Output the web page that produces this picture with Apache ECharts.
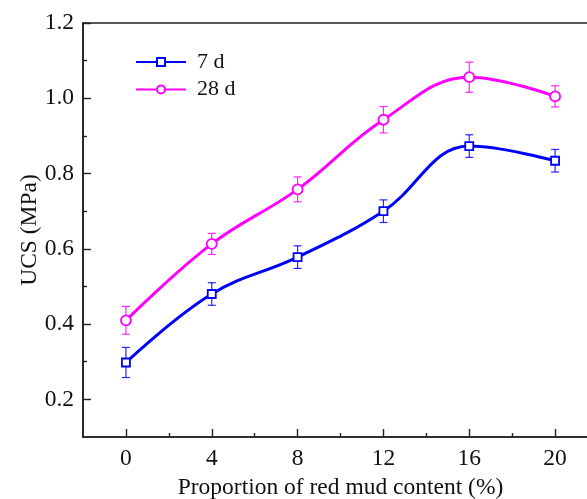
<!DOCTYPE html>
<html>
<head>
<meta charset="utf-8">
<script src="https://cdn.jsdelivr.net/npm/echarts@6/dist/echarts.min.js"></script>
<style>
  html, body { margin: 0; padding: 0; background: #fff; }
  #main { width: 587px; height: 499px; }
</style>
</head>
<body>
<div id="main"></div>
<script>
const contents = [0, 4, 8, 12, 16, 20];
const minorX = [2, 6, 10, 14, 18];
const yTicks = [0.2, 0.4, 0.6, 0.8, 1.0, 1.2];
const minorY = [0.3, 0.5, 0.7, 0.9, 1.1];

const ucs7 = [0.298, 0.48, 0.578, 0.70, 0.873, 0.834];
const err7 = [0.04, 0.03, 0.03, 0.03, 0.03, 0.03];
const ucs28 = [0.41, 0.613, 0.758, 0.943, 1.056, 1.005];
const err28 = [0.037, 0.028, 0.033, 0.035, 0.04, 0.028];

const BLUE = '#0000ff';
const MAGENTA = '#ff00ff';
const font = '"Liberation Serif", "Times New Roman", serif';
const FS = 23.5;

const pts = (ys) => contents.map((x, i) => [x, ys[i]]);
const bars = (ys, es) => contents.map((x, i) => [x, ys[i] - es[i], ys[i] + es[i]]);

const errorSeries = (data, color) => ({
  type: 'custom',
  data,
  z: 1,
  silent: true,
  renderItem: (params, api) => {
    const x = api.value(0);
    const top = api.coord([x, api.value(2)]);
    const bot = api.coord([x, api.value(1)]);
    const w = 4;
    const st = { stroke: color, lineWidth: 1.2, opacity: 0.85 };
    return {
      type: 'group',
      children: [
        { type: 'line', shape: { x1: top[0], y1: top[1], x2: bot[0], y2: bot[1] }, style: st },
        { type: 'line', shape: { x1: top[0] - w, y1: top[1], x2: top[0] + w, y2: top[1] }, style: st },
        { type: 'line', shape: { x1: bot[0] - w, y1: bot[1], x2: bot[0] + w, y2: bot[1] }, style: st },
      ],
    };
  },
});

const chart = echarts.init(document.getElementById('main'), null, { renderer: 'canvas' });

const axisLine = { show: true, onZero: false, lineStyle: { color: '#222', width: 1.6 } };
const tickStyle = { color: '#222', width: 1.4 };

const options = {
  animation: false,
  backgroundColor: '#fff',
  grid: {
    left: 83,
    top: 23,
    width: 515,
    bottom: 62,
    outerBoundsMode: 'none',
    containLabel: false,
    show: true,
    borderColor: '#222',
    borderWidth: 1.6,
  },
  legend: {
    left: 130,
    top: 45,
    orient: 'vertical',
    itemWidth: 50,
    itemHeight: 10,
    itemGap: 3.5,
    data: ['7 d', '28 d'],
    textStyle: { fontFamily: font, fontSize: 22, lineHeight: 24, color: '#111', padding: [0, 0, 0, 6] },
  },
  xAxis: [
    {
      type: 'value',
      min: -2,
      max: 22,
      name: 'Proportion of red mud content (%)',
      nameLocation: 'middle',
      nameGap: 39,
      nameTextStyle: { fontFamily: font, fontSize: FS, color: '#111' },
      axisLine,
      splitLine: { show: false },
      axisTick: { inside: true, length: 8, customValues: contents, lineStyle: tickStyle },
      axisLabel: { customValues: contents, margin: 10, fontFamily: font, fontSize: FS, color: '#111' },
    },
    {
      type: 'value',
      min: -2,
      max: 22,
      position: 'bottom',
      axisLine: { show: false, onZero: false },
      splitLine: { show: false },
      axisTick: { inside: true, length: 4, customValues: minorX, lineStyle: tickStyle },
      axisLabel: { show: false },
    },
  ],
  yAxis: [
    {
      type: 'value',
      min: 0.1,
      max: 1.2,
      name: 'UCS (MPa)',
      nameLocation: 'middle',
      nameGap: 41,
      nameMoveOverlap: false,
      nameTextStyle: { fontFamily: font, fontSize: FS, color: '#111' },
      axisLine,
      splitLine: { show: false },
      axisTick: { inside: true, length: 8, customValues: yTicks, lineStyle: tickStyle },
      axisLabel: {
        customValues: yTicks,
        margin: 9,
        fontFamily: font,
        fontSize: FS,
        color: '#111',
        formatter: (v) => v.toFixed(1),
      },
    },
    {
      type: 'value',
      min: 0.1,
      max: 1.2,
      position: 'left',
      axisLine: { show: false, onZero: false },
      splitLine: { show: false },
      axisTick: { inside: true, length: 4, customValues: minorY, lineStyle: tickStyle },
      axisLabel: { show: false },
    },
  ],
  series: [
    errorSeries(bars(ucs7, err7), BLUE),
    errorSeries(bars(ucs28, err28), MAGENTA),
    {
      name: '7 d',
      type: 'line',
      data: pts(ucs7),
      smooth: 0.4,
      z: 3,
      symbol: 'rect',
      symbolSize: 8,
      itemStyle: { color: '#fff', borderColor: BLUE, borderWidth: 1.8 },
      lineStyle: { color: BLUE, width: 3 },
    },
    {
      name: '28 d',
      type: 'line',
      data: pts(ucs28),
      smooth: 0.4,
      z: 3,
      symbol: 'circle',
      symbolSize: 10,
      itemStyle: { color: '#fff', borderColor: MAGENTA, borderWidth: 1.8 },
      lineStyle: { color: MAGENTA, width: 3 },
    },
  ],
};

chart.setOption(options);
</script>
</body>
</html>
